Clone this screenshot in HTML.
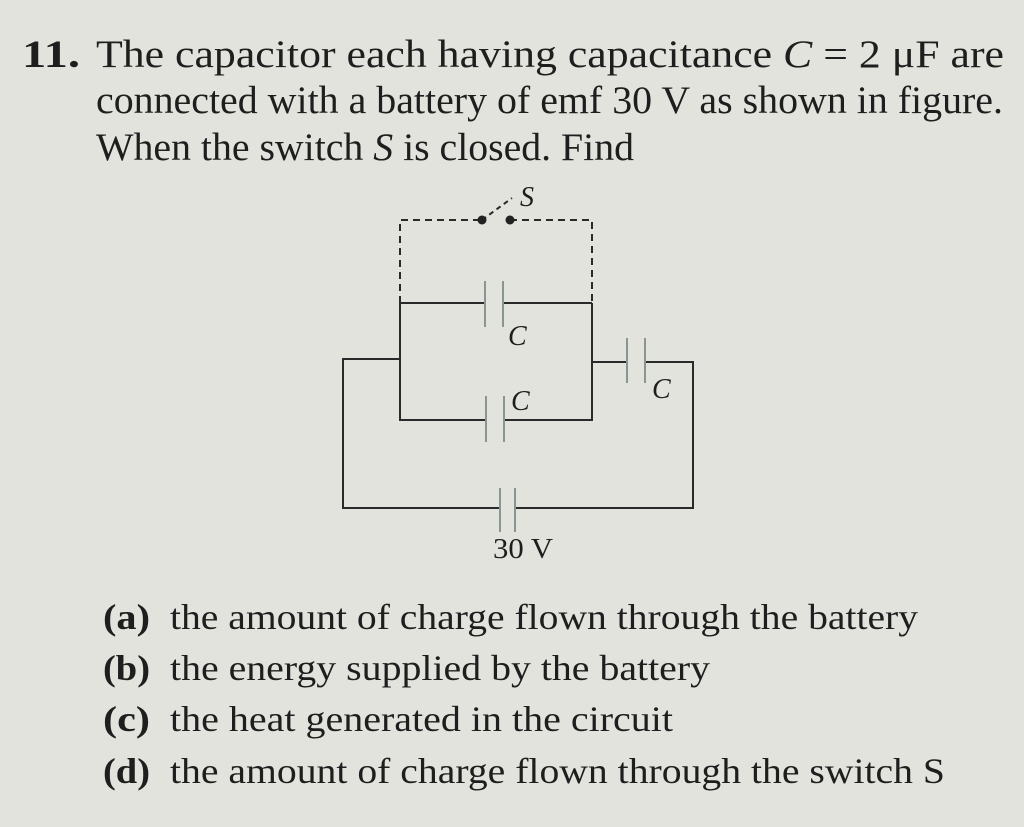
<!DOCTYPE html>
<html><head><meta charset="utf-8"><style>
html,body{margin:0;padding:0;background:#e3e3de;}
svg{display:block}
text{font-family:"Liberation Serif","Times New Roman",serif;fill:#1e1e1e;}
</style></head><body>
<svg width="1024" height="827" viewBox="0 0 1024 827" xmlns="http://www.w3.org/2000/svg">
<rect width="1024" height="827" fill="#e3e3de"/>
<g font-size="39">
<text x="22" y="67" font-weight="bold" textLength="58" lengthAdjust="spacingAndGlyphs">11.</text>
<text x="96" y="67" textLength="908" lengthAdjust="spacingAndGlyphs">The capacitor each having capacitance <tspan font-style="italic">C</tspan> = 2 μF are</text>
<text x="96" y="113" textLength="907" lengthAdjust="spacingAndGlyphs">connected with a battery of emf 30 V as shown in figure.</text>
<text x="96" y="160" textLength="538" lengthAdjust="spacingAndGlyphs">When the switch <tspan font-style="italic">S</tspan> is closed. Find</text>
</g>
<g font-size="36">
<text x="103" y="629" font-weight="bold" textLength="47" lengthAdjust="spacingAndGlyphs">(a)</text>
<text x="170" y="629" textLength="748" lengthAdjust="spacingAndGlyphs">the amount of charge flown through the battery</text>
<text x="103" y="680" font-weight="bold" textLength="47" lengthAdjust="spacingAndGlyphs">(b)</text>
<text x="170" y="680" textLength="540" lengthAdjust="spacingAndGlyphs">the energy supplied by the battery</text>
<text x="103" y="731" font-weight="bold" textLength="47" lengthAdjust="spacingAndGlyphs">(c)</text>
<text x="170" y="731" textLength="503" lengthAdjust="spacingAndGlyphs">the heat generated in the circuit</text>
<text x="103" y="783" font-weight="bold" textLength="47" lengthAdjust="spacingAndGlyphs">(d)</text>
<text x="170" y="783" textLength="775" lengthAdjust="spacingAndGlyphs">the amount of charge flown through the switch S</text>
</g>
<g stroke="#2a2a2a" stroke-width="2" fill="none">
<path d="M400 303 V220 H482 M510 220 H592 V303" stroke-dasharray="7,5"/>
<path d="M482 220 L512 198" stroke-dasharray="5,4"/>
<path d="M400 303 H485 M503 303 H592"/>
<path d="M485 281 V327 M503 281 V327" stroke="#8a9492"/>
<path d="M400 303 V420 H486 M504 420 H592 V303"/>
<path d="M486 396 V442 M504 396 V442" stroke="#8a9492"/>
<path d="M592 362 H627 M645 362 H693 V508 H515"/>
<path d="M627 338 V383 M645 338 V383" stroke="#8a9492"/>
<path d="M400 359 H343 V508 H500"/>
<path d="M500 488 V532 M515 488 V532" stroke="#8a9492"/>
</g>
<circle cx="482" cy="220" r="4.5" fill="#222"/>
<circle cx="510" cy="220" r="4.5" fill="#222"/>
<g font-size="28">
<text x="520" y="206" font-style="italic">S</text>
<text x="508" y="345" font-style="italic">C</text>
<text x="511" y="410" font-style="italic">C</text>
<text x="652" y="398" font-style="italic">C</text>
<text x="493" y="558" textLength="60" lengthAdjust="spacingAndGlyphs">30 V</text>
</g>
</svg>
</body></html>
